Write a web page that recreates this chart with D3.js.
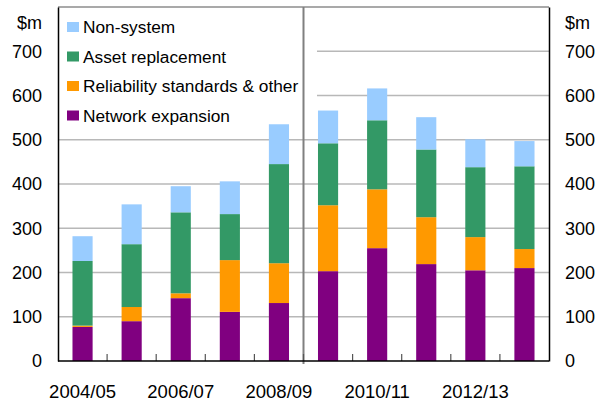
<!DOCTYPE html>
<html>
<head>
<meta charset="utf-8">
<script src="https://cdn.jsdelivr.net/npm/d3@7"></script>
<style>
  html, body { margin: 0; padding: 0; background: #fff; }
  svg { display: block; font-family: Arial, "Liberation Sans", sans-serif; }
</style>
</head>
<body>
<svg id="chart" width="606" height="401"></svg>
<script>
// Transmission capital expenditure by category, $m
const years = ["2004/05", "2005/06", "2006/07", "2007/08", "2008/09",
               "2009/10", "2010/11", "2011/12", "2012/13", "2013/14"];
const networkExpansion = [77, 90, 142, 111, 131, 203, 255, 219, 205, 210];
const reliability      = [3, 32, 11, 117, 90, 149, 133, 106, 75, 43];
const assetReplacement = [146, 142, 183, 104, 224, 140, 156, 153, 158, 187];
const nonSystem        = [56, 90, 59, 74, 90, 74, 72, 73, 63, 57];
const yTicks = [0, 100, 200, 300, 400, 500, 600, 700];
const xLabels = ["2004/05", "2006/07", "2008/09", "2010/11", "2012/13"];

const seriesNames = ["Network expansion", "Reliability standards & other", "Asset replacement", "Non-system"];
const seriesColors = ["#800080", "#ff9900", "#339966", "#99ccff"];
const seriesValues = [networkExpansion, reliability, assetReplacement, nonSystem];

const rows = years.map((yr, i) => {
  const r = { year: yr };
  seriesNames.forEach((s, k) => r[s] = seriesValues[k][i]);
  return r;
});

const svg = d3.select("#chart");
const plotL = 58, plotR = 549, plotT = 7, plotB = 361;

const x = d3.scaleBand().domain(years).range([plotL, plotR])
  .paddingInner(0.59).paddingOuter(0.295);
const y = d3.scaleLinear().domain([0, 800]).range([plotB, plotT]);

// category divider between history and forecast
const divX = x(years[5]) - x.step() * x.paddingInner() / 2;

// gridlines
svg.append("g").selectAll("line").data(yTicks.filter(d => d > 0)).join("line")
  .attr("x1", plotL).attr("x2", plotR)
  .attr("y1", d => y(d)).attr("y2", d => y(d))
  .attr("stroke", "#b8b8b8").attr("stroke-width", 1.5);

// legend panel background (sits over the gridlines, under the bars)
svg.append("rect").attr("x", plotL + 1).attr("y", plotT + 1)
  .attr("width", x(years[5]) - plotL - 2).attr("height", 125).attr("fill", "#fff");

// stacked bars
const stacked = d3.stack().keys(seriesNames)(rows);
svg.append("g").selectAll("g").data(stacked).join("g")
  .attr("fill", (d, i) => seriesColors[i])
  .selectAll("rect").data(d => d).join("rect")
  .attr("x", d => x(d.data.year))
  .attr("width", x.bandwidth())
  .attr("y", d => y(d[1]))
  .attr("height", d => y(d[0]) - y(d[1]));

// legend entries
const legend = svg.append("g");
const legendOrder = [3, 2, 1, 0];
legendOrder.forEach((k, i) => {
  const cy = 27 + i * 29.5;
  legend.append("rect").attr("x", 67).attr("y", cy - 5)
    .attr("width", 12).attr("height", 10).attr("fill", seriesColors[k]);
  legend.append("text").attr("x", 83).attr("y", cy)
    .attr("dy", "0.35em").attr("font-size", 17.3).attr("fill", "#000")
    .text(seriesNames[k]);
});

// frame top
svg.append("line").attr("x1", plotL).attr("x2", plotR).attr("y1", plotT).attr("y2", plotT)
  .attr("stroke", "#555").attr("stroke-width", 1.2);

svg.append("line").attr("x1", divX).attr("x2", divX).attr("y1", plotT).attr("y2", plotB + 3)
  .attr("stroke", "#808080").attr("stroke-width", 2);

// x axis with inward ticks at category boundaries
const xAxis = svg.append("g");
const boundaries = years.slice(1).map(d => x(d) - x.step() * x.paddingInner() / 2);
xAxis.selectAll("line.tick").data(boundaries).join("line")
  .attr("class", "tick")
  .attr("x1", d => d).attr("x2", d => d)
  .attr("y1", plotB).attr("y2", plotB - 7)
  .attr("stroke", "#555").attr("stroke-width", 1.2);
xAxis.append("line").attr("x1", plotL).attr("x2", plotR).attr("y1", plotB).attr("y2", plotB)
  .attr("stroke", "#000").attr("stroke-width", 1.5);
xAxis.selectAll("text").data(xLabels).join("text")
  .attr("x", d => x(d) + x.bandwidth() / 2)
  .attr("y", 398).attr("text-anchor", "middle")
  .attr("font-size", 18.5).attr("fill", "#000")
  .text(d => d);

// y axes (left and right)
const yLeft = d3.axisLeft(y).tickValues(yTicks).tickSize(0).tickPadding(16);
const yRight = d3.axisRight(y).tickValues(yTicks).tickSize(0).tickPadding(16);
const gl = svg.append("g").attr("transform", `translate(${plotL},0)`).call(yLeft);
const gr = svg.append("g").attr("transform", `translate(${plotR},0)`).call(yRight);
[gl, gr].forEach(g => {
  g.select(".domain").attr("stroke", "#000").attr("stroke-width", 1.5);
  g.selectAll("text").attr("font-size", 18).attr("fill", "#000")
    .attr("font-family", "Arial, 'Liberation Sans', sans-serif");
});

// unit labels
svg.append("text").attr("x", 42).attr("y", 23).attr("dy", "0.35em")
  .attr("text-anchor", "end").attr("font-size", 18).text("$m");
svg.append("text").attr("x", 565).attr("y", 23).attr("dy", "0.35em")
  .attr("text-anchor", "start").attr("font-size", 18).text("$m");
</script>
</body>
</html>
